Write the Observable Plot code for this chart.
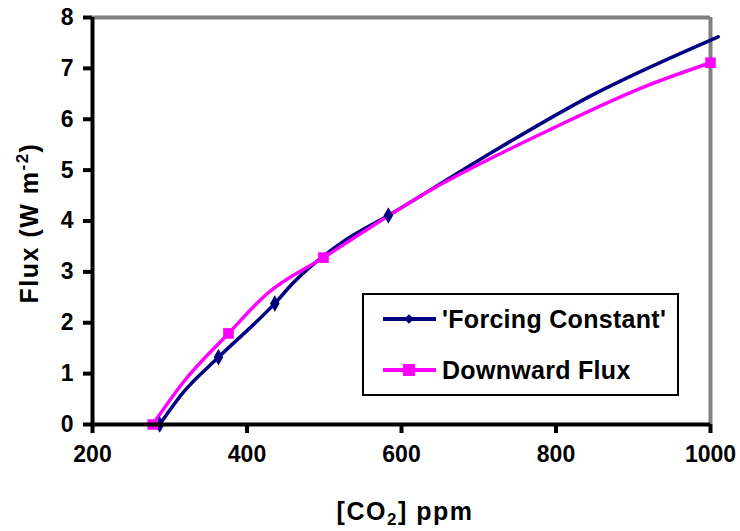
<!DOCTYPE html>
<html>
<head>
<meta charset="utf-8">
<script src="https://cdn.jsdelivr.net/npm/d3@7"></script>
<script src="https://cdn.jsdelivr.net/npm/@observablehq/plot@0.6"></script>
<style>
  html, body { margin: 0; padding: 0; background: #fff; }
  #chart { position: relative; width: 740px; height: 531px; }
  svg { font-family: "Liberation Sans", Arial, sans-serif; font-weight: bold; }
</style>
</head>
<body>
<div id="chart"></div>
<script>
// ---- data ----
const forcingCO2 = [287, 318, 363, 436, 459, 530, 583, 706, 845, 1010];
const forcingFlux = [0, 0.64, 1.32, 2.38, 2.77, 3.65, 4.11, 5.25, 6.46, 7.62];
const forcingMarkerCO2 = [287, 363, 436, 583];

const downCO2 = [278, 318, 376, 426, 499, 637, 797, 918, 1000];
const downFlux = [0, 0.84, 1.79, 2.57, 3.28, 4.6, 5.83, 6.66, 7.11];
const downMarkerCO2 = [278, 376, 499, 1000];

const xTicks = [200, 400, 600, 800, 1000];
const yTicks = [0, 1, 2, 3, 4, 5, 6, 7, 8];
const seriesNames = ["'Forcing Constant'", "Downward Flux"];
const colors = ["#000080", "#FF00FF"];

// ---- tables ----
const forcing = forcingCO2.map((c, i) => ({co2: c, flux: forcingFlux[i]}));
const down = downCO2.map((c, i) => ({co2: c, flux: downFlux[i]}));
const forcingMarkers = forcing.filter(d => forcingMarkerCO2.includes(d.co2));
const downMarkers = down.filter(d => downMarkerCO2.includes(d.co2));

const W = 740, H = 531;
const chart = Plot.plot({
  width: W, height: H,
  marginLeft: 92, marginRight: 30, marginTop: 17, marginBottom: 107,
  x: {domain: [200, 1000]},
  y: {domain: [0, 8]},
  marks: [
    Plot.ruleY([8], {stroke: "#808080", strokeWidth: 4}),
    Plot.ruleX([1000], {stroke: "#808080", strokeWidth: 4}),
    Plot.line(forcing, {x: "co2", y: "flux", stroke: colors[0], strokeWidth: 3.5, curve: "monotone-x"}),
    Plot.line(down, {x: "co2", y: "flux", stroke: colors[1], strokeWidth: 3.5, curve: "monotone-x"}),
    Plot.dot(forcingMarkers, {x: "co2", y: "flux", symbol: "diamond", r: 5, fill: colors[0]}),
    Plot.dot(downMarkers, {x: "co2", y: "flux", symbol: "square", r: 6, fill: colors[1]}),
    Plot.ruleX([200], {stroke: "black", strokeWidth: 4}),
    Plot.ruleY([0], {stroke: "black", strokeWidth: 4}),
    Plot.axisX({ticks: xTicks, tickSize: 9, tickPadding: 12, tickFormat: d => String(d),
      fontSize: 23, label: null, stroke: "black", strokeWidth: 4}),
    Plot.axisY({ticks: yTicks, tickSize: 9, tickPadding: 10, tickFormat: d => String(d),
      fontSize: 23, label: null, stroke: "black", strokeWidth: 4})
  ]
});
document.getElementById("chart").appendChild(chart);

const svg = d3.select(chart);
// axis titles
const xt = svg.append("text").attr("x", 405).attr("y", 520).attr("text-anchor", "middle")
  .attr("font-size", 25).attr("letter-spacing", 1.5).attr("fill", "black");
xt.append("tspan").text("[CO");
xt.append("tspan").attr("font-size", 17).attr("dy", 5).text("2");
xt.append("tspan").attr("dy", -5).text("] ppm");

const yt = svg.append("text").attr("transform", "translate(38,223) rotate(-90)")
  .attr("text-anchor", "middle").attr("font-size", 25).attr("letter-spacing", 1.5).attr("fill", "black");
yt.append("tspan").text("Flux (W m");
yt.append("tspan").attr("font-size", 17).attr("dy", -10).text("-2");
yt.append("tspan").attr("dy", 10).text(")");

// legend
const lg = svg.append("g").attr("text-anchor", "start");
lg.append("rect").attr("x", 363).attr("y", 294).attr("width", 315).attr("height", 101)
  .attr("fill", "white").attr("stroke", "black").attr("stroke-width", 2);
const rows = [319, 370];
rows.forEach((yy, i) => {
  lg.append("line").attr("x1", 383).attr("x2", 436).attr("y1", yy).attr("y2", yy)
    .attr("stroke", colors[i]).attr("stroke-width", 4);
  if (i === 0) {
    lg.append("path").attr("d", d3.symbol(d3.symbolDiamond2, 60)()).attr("transform", `translate(409,${yy})`).attr("fill", colors[i]);
  } else {
    lg.append("rect").attr("x", 403).attr("y", yy - 6).attr("width", 12).attr("height", 12).attr("fill", colors[i]);
  }
  lg.append("text").attr("x", 442).attr("y", yy + 9).attr("font-size", 25).attr("letter-spacing", 0.3)
    .attr("fill", "black").text(seriesNames[i]);
});
</script>
</body>
</html>
